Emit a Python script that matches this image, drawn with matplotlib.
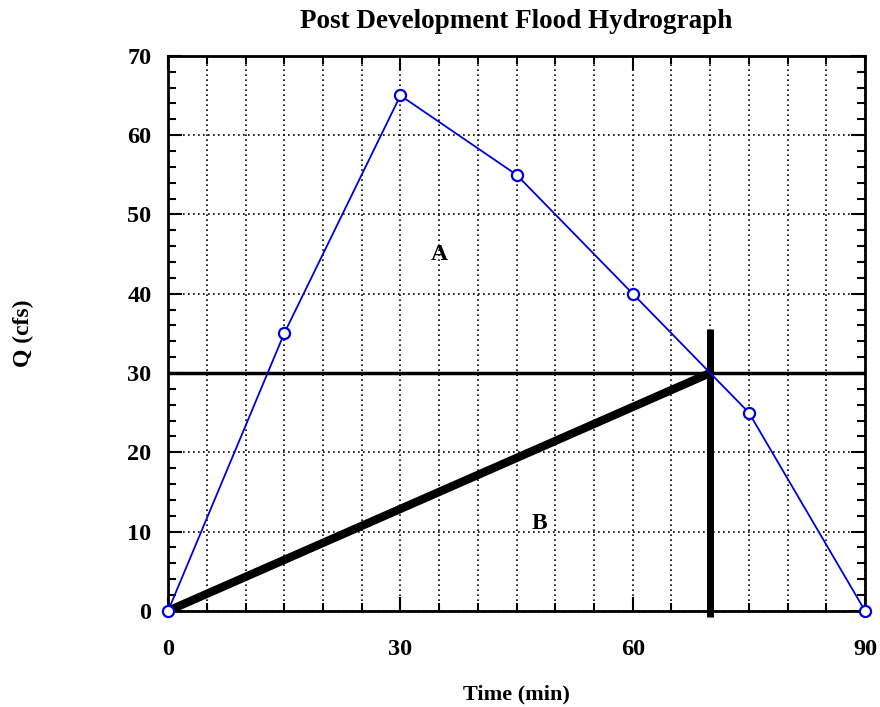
import matplotlib
matplotlib.use("Agg")
import matplotlib.pyplot as plt
from matplotlib.ticker import MultipleLocator

plt.rcParams['font.family'] = ['Liberation Serif', 'DejaVu Serif']
plt.rcParams['font.weight'] = 'bold'

time_min = [0, 15, 30, 45, 60, 75, 90]
q_cfs = [0, 35, 65, 55, 40, 25, 0]

release_rate = 30
storage_end = 70
labels = [("A", 35, 45), ("B", 48, 11)]

fig = plt.figure(figsize=(8.8, 7.07), dpi=100)
ax = fig.add_axes([0.191, 0.136, 0.792, 0.785])

ax.plot(time_min, q_cfs, color='#0000dd', lw=1.3, marker='o', ms=8,
        mfc='white', mec='#0000dd', mew=1.6, zorder=4, clip_on=False)

ax.plot([0, 90], [release_rate, release_rate], color='black', lw=2.5, zorder=3)
ax.plot([0, storage_end], [0, release_rate], color='black', lw=6,
        solid_capstyle='butt', zorder=3, clip_on=False)
ax.plot([storage_end, storage_end], [-0.8, 35.5], color='black', lw=5,
        solid_capstyle='butt', zorder=3, clip_on=False)

for txt, x, y in labels:
    ax.text(x, y, txt, fontsize=17, fontweight='bold', ha='center', va='center')

ax.set_xlim(0, 90)
ax.set_ylim(0, 70)
ax.xaxis.set_major_locator(MultipleLocator(30))
ax.xaxis.set_minor_locator(MultipleLocator(5))
ax.yaxis.set_major_locator(MultipleLocator(10))
ax.yaxis.set_minor_locator(MultipleLocator(2))

ax.grid(True, which='major', axis='y', color='black', ls=(0, (1, 2)), lw=1.2)
ax.grid(True, which='both', axis='x', color='black', ls=(0, (1, 2)), lw=1.2)

ax.tick_params(which='both', direction='in', top=True, right=True, width=1.5)
ax.tick_params(which='major', length=10, labelsize=17.5)
ax.tick_params(which='minor', length=6)
ax.tick_params(axis='x', which='major', pad=20)
ax.tick_params(axis='y', which='major', pad=12)
for s in ax.spines.values():
    s.set_linewidth(2)

ax.set_title("Post Development Flood Hydrograph", fontsize=19.5, fontweight='bold', pad=20)
ax.set_xlabel("Time (min)", fontsize=16, fontweight='bold', labelpad=18)
ax.set_ylabel("Q (cfs)", fontsize=17, fontweight='bold', labelpad=67)

fig.savefig("out.png", dpi=100)
